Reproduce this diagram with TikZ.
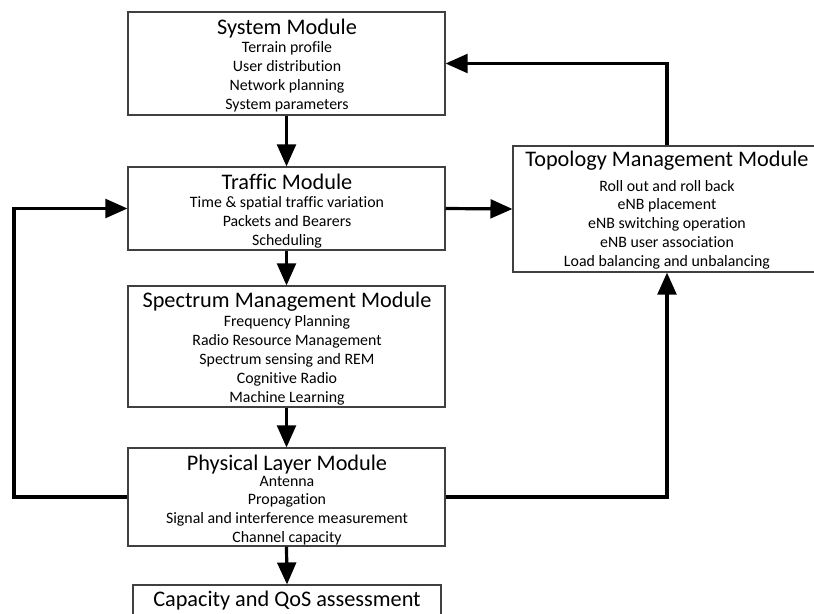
\documentclass[tikz,border=0pt]{standalone}
\usepackage{fontspec}
\setmainfont{Carlito}[Ligatures=NoCommon]
\usetikzlibrary{arrows.meta}
\definecolor{boxgray}{HTML}{404040}
\tikzset{
  modbox/.style={draw=boxgray, line width=0.8pt, rectangle, inner sep=0pt},
  modtitle/.style={font=\fontsize{16.7}{18}\selectfont, inner sep=0pt, anchor=mid},
  moditem/.style={font=\fontsize{11.9}{13}\selectfont, inner sep=0pt, anchor=mid},
  conn/.style={line width=2.4pt, -{Triangle[length=16.5pt,width=14pt]}},
}
\begin{document}
\begin{tikzpicture}[x=0.75pt, y=-0.75pt]
  \useasboundingbox (0,0) rectangle (814,614);
  \clip (0,0) rectangle (814,614);

  % module boxes
  \node[modbox, minimum width=237.75pt, minimum height=77.25pt] (sys)  at (286.5,63.5) {};
  \node[modbox, minimum width=237.75pt, minimum height=62.25pt] (traf) at (286.5,208.5) {};
  \node[modbox, minimum width=237.75pt, minimum height=90.75pt] (spec) at (286.5,346.5) {};
  \node[modbox, minimum width=237.75pt, minimum height=73.5pt]  (phys) at (286.5,497) {};
  \node[modbox, minimum width=231pt,    minimum height=45pt]    (cap)  at (287,615) {};
  \node[modbox, minimum width=231pt,    minimum height=94.5pt]  (topo) at (667,209) {};

  % titles
  \node[modtitle] (sys-t)  at (287,31)  {System Module};
  \node[modtitle] (traf-t) at (287,186) {Traffic Module};
  \node[modtitle] (spec-t) at (287,304) {Spectrum Management Module};
  \node[modtitle] (phys-t) at (287,467) {Physical Layer Module};
  \node[modtitle] (cap-t)  at (287,603) {Capacity and QoS assessment};
  \node[modtitle] (topo-t) at (667,163) {Topology Management Module};

  % contents
  \foreach \t [count=\i] in {Terrain profile, User distribution, Network planning, System parameters}
    \node[moditem] (sys-\i) at ({287},{49+19*(\i-1)}) {\t};
  \foreach \t [count=\i] in {Time \& spatial traffic variation, Packets and Bearers, Scheduling}
    \node[moditem] (traf-\i) at ({287},{204+19*(\i-1)}) {\t};
  \foreach \t [count=\i] in {Frequency Planning, Radio Resource Management, Spectrum sensing and REM, Cognitive Radio, Machine Learning}
    \node[moditem] (spec-\i) at ({287},{323+19*(\i-1)}) {\t};
  \foreach \t [count=\i] in {Antenna, Propagation, Signal and interference measurement, Channel capacity}
    \node[moditem] (phys-\i) at ({287},{483+18.7*(\i-1)}) {\t};
  \foreach \t [count=\i] in {Roll out and roll back, eNB placement, eNB switching operation, eNB user association, Load balancing and unbalancing}
    \node[moditem] (topo-\i) at ({667},{188+18.75*(\i-1)}) {\t};

  % connectors
  \coordinate (loopL) at (14,0);
  \draw[conn] (sys.south) -- (traf.north);
  \draw[conn] (traf.south) -- (spec.north);
  \draw[conn] (spec.south) -- (phys.north);
  \draw[conn] (phys.south) -- (cap.north);
  \draw[conn] (traf.east) -- (topo.west);
  \draw[conn] (topo.north) |- (sys.east);
  \draw[conn] (phys.east) -| (topo.south);
  \draw[conn] (phys.west) -| (loopL |- traf.west) -- (traf.west);
\end{tikzpicture}
\end{document}
